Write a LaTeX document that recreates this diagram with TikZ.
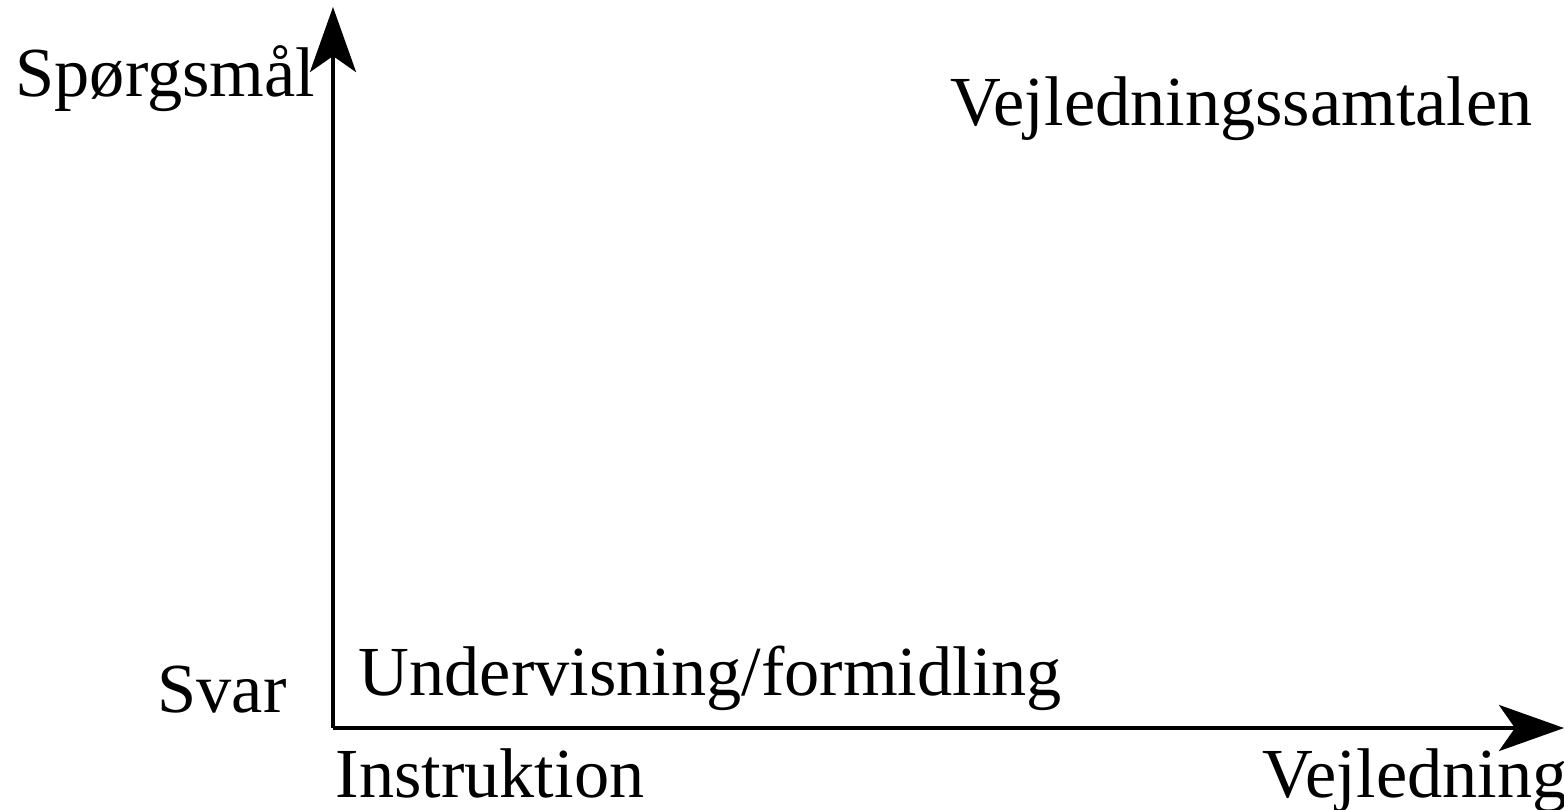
\documentclass[tikz,border=0pt]{standalone}
\usepackage{fontspec}
\setmainfont{Liberation Serif}
\usetikzlibrary{arrows.meta}
\tikzset{
  axis/.style={-{Stealth[length=6.5mm,width=4.6mm,inset=1.6mm]}, line width=1.1pt},
  lbl/.style={anchor=base west, inner sep=0pt, font=\fontsize{20}{24}\selectfont},
}

\begin{document}
\begin{tikzpicture}[x=0.01cm, y=-0.01cm]
  \useasboundingbox (0,0) rectangle (1564,809);
  % axes
  \coordinate (o) at (333,728);
  \coordinate (ytip) at (333,7);
  \coordinate (xtip) at (1564,728);
  \draw[axis] (o) -- (ytip);
  \draw[axis] (o) -- (xtip);
  % labels
  \node[lbl] (spm) at (15,97) {Spørgsmål};
  \node[lbl] (svar) at (157,712) {Svar};
  \node[lbl] (samtale) at (950,125) {Vejledningssamtalen};
  \node[lbl] (underv) at (358,695) {Undervisning/formidling};
  \node[lbl] (instr) at (335,797) {Instruktion};
  \node[lbl] (vejl) at (1262,797) {Vejledning};
\end{tikzpicture}
\end{document}
